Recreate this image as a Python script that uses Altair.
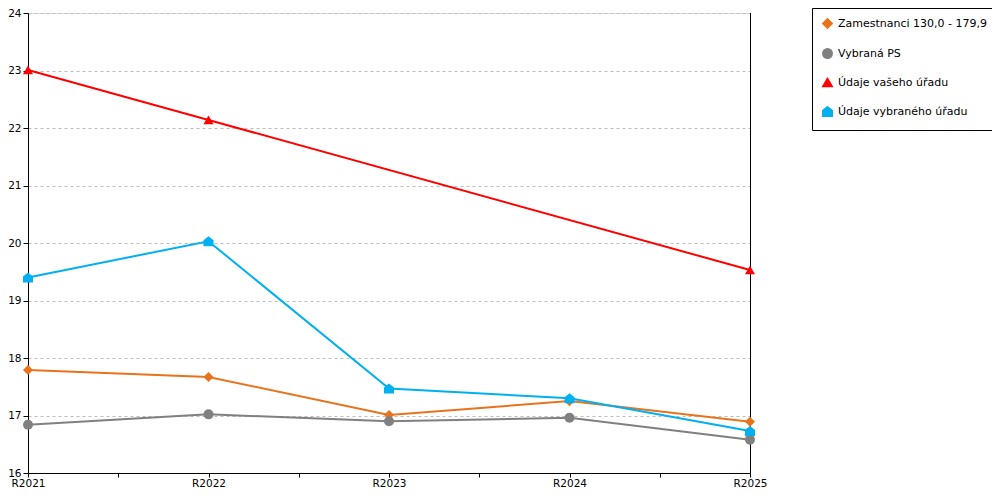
import altair as alt
import pandas as pd

categories = ["R2021", "R2022", "R2023", "R2024", "R2025"]
series_names = [
    "Zamestnanci 130,0 - 179,9",
    "Vybraná PS",
    "Údaje vašeho úřadu",
    "Údaje vybraného úřadu",
]
zamestnanci = [17.79, 17.67, 17.01, 17.25, 16.89]
vybrana_ps = [16.84, 17.02, 16.90, 16.96, 16.58]
vaseho_uradu = [23.01, 22.14, None, None, 19.53]
vybraneho_uradu = [19.40, 20.03, 17.47, 17.30, 16.73]

colors = ["#E8731C", "#808080", "#FF0000", "#00B0F0"]
house = "M0,-1L1,-0.2L1,1L-1,1L-1,-0.2Z"
shapes = ["diamond", "circle", "triangle-up", house]

rows = []
for name, vals in zip(series_names, [zamestnanci, vybrana_ps, vaseho_uradu, vybraneho_uradu]):
    for i, (cat, v) in enumerate(zip(categories, vals)):
        rows.append({"series": name, "idx": i, "cat": cat, "value": v})
df = pd.DataFrame(rows)

FONT = "DejaVu Sans"
label_arr = "[" + ",".join("'" + c + "'" for c in categories) + "]"
tick_vals = [i * 0.5 for i in range(2 * (len(categories) - 1) + 1)]

x = alt.X(
    "idx:Q",
    scale=alt.Scale(domain=[0, len(categories) - 1], nice=False, zero=False),
    axis=alt.Axis(
        values=tick_vals,
        labelExpr=f"datum.value % 1 == 0 ? {label_arr}[datum.value] : ''",
        grid=False,
        title=None,
        domainColor="black",
        tickColor="black",
        tickSize=4,
        labelColor="black",
        labelFont=FONT,
        labelFontSize=10.5,
        labelPadding=1,
        labelFlush=False,
        labelOverlap=False,
    ),
)
y = alt.Y(
    "value:Q",
    scale=alt.Scale(domain=[16, 24], nice=False, zero=False),
    axis=alt.Axis(
        values=list(range(16, 25)),
        grid=True,
        gridColor="#bdbdbd",
        gridDash=[3, 3],
        gridWidth=1,
        title=None,
        domainColor="black",
        tickColor="black",
        tickSize=5,
        labelColor="black",
        labelFont=FONT,
        labelFontSize=10.5,
        labelPadding=2,
    ),
)

legend = alt.Legend(
    title=None,
    orient="none",
    legendX=784,
    legendY=-5,
    strokeColor="black",
    fillColor="white",
    padding=10,
    labelFont=FONT,
    labelFontSize=11,
    labelColor="black",
    rowPadding=13,
    symbolSize=90,
    labelOffset=5,
    labelLimit=300,
)
color = alt.Color("series:N", scale=alt.Scale(domain=series_names, range=colors), legend=legend)
shape = alt.Shape("series:N", scale=alt.Scale(domain=series_names, range=shapes), legend=legend)

base = alt.Chart(df).transform_filter("isValid(datum.value)")

points = base.mark_point(filled=True, size=100, opacity=1).encode(
    x=x, y=y, color=color, shape=shape,
)
lines = base.mark_line(strokeWidth=2).encode(
    x=x,
    y=y,
    color=alt.Color("series:N", scale=alt.Scale(domain=series_names, range=colors), legend=legend),
    order="idx:Q",
)
right_line = alt.Chart(df).mark_rule(color="black", strokeWidth=1, xOffset=0.5).encode(
    x=alt.datum(len(categories) - 1)
)

chart = (
    alt.layer(lines, right_line, points)
    .properties(
        width=722,
        height=460,
        autosize=alt.AutoSizeParams(type="none"),
        padding={"left": 20, "top": 5, "right": 242, "bottom": 19},
    )
    .configure_view(stroke=None)
    .configure(background="white")
)

chart.save("out.html", embed_options={"renderer": "svg", "actions": False})
